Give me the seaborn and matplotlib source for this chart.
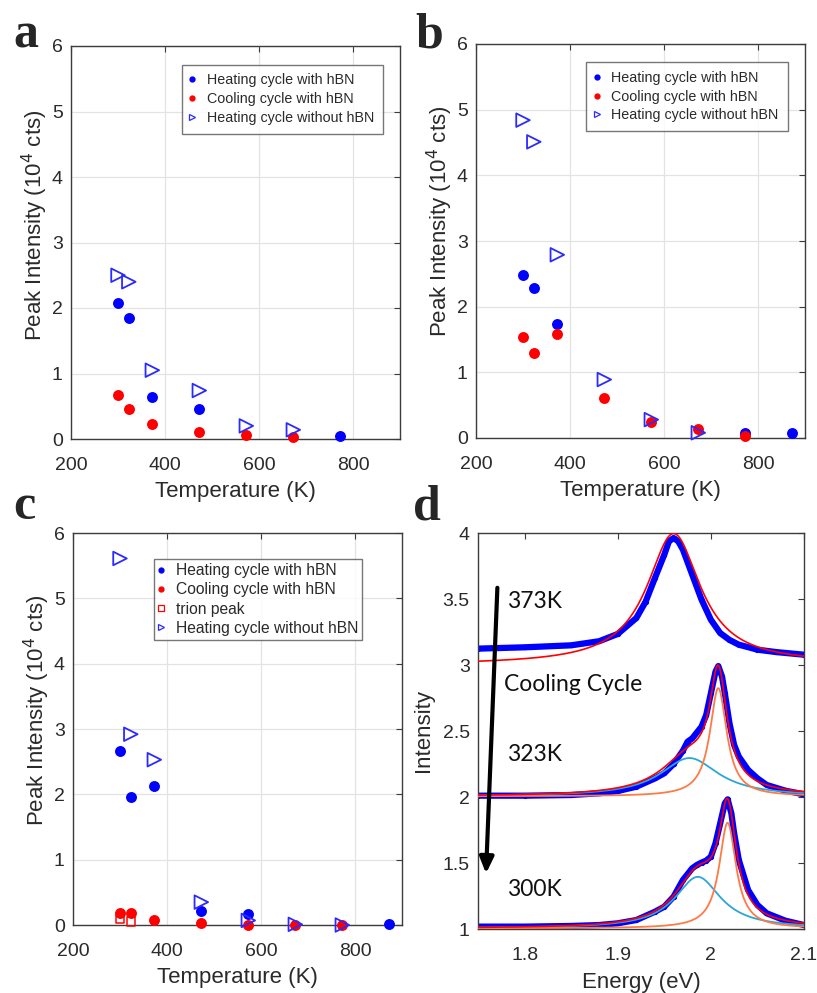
import numpy as np
import pandas as pd
import matplotlib
matplotlib.use("Agg")
import matplotlib.pyplot as plt
from matplotlib.lines import Line2D
import seaborn as sns

sns.set_theme(style="white")
plt.rcParams["font.family"] = ["Liberation Sans", "DejaVu Sans"]

# ---------------- data ----------------
# panel a
T_a_heat = [300, 323, 373, 473, 773]
I_a_heat = [2.08, 1.85, 0.64, 0.46, 0.04]
T_a_cool = [300, 323, 373, 473, 573, 673]
I_a_cool = [0.67, 0.46, 0.23, 0.11, 0.06, 0.035]
T_a_noh = [300, 323, 373, 473, 573, 673]
I_a_noh = [2.50, 2.40, 1.05, 0.74, 0.20, 0.14]
# panel b
T_b_heat = [300, 323, 373, 773, 873]
I_b_heat = [2.48, 2.29, 1.74, 0.07, 0.07]
T_b_cool = [300, 323, 373, 473, 573, 673, 773]
I_b_cool = [1.54, 1.30, 1.58, 0.61, 0.25, 0.13, 0.035]
T_b_noh = [300, 323, 373, 473, 573, 673]
I_b_noh = [4.84, 4.51, 2.79, 0.89, 0.28, 0.08]
# panel c
T_c_heat = [300, 323, 373, 473, 573, 873]
I_c_heat = [2.67, 1.96, 2.12, 0.22, 0.17, 0.01]
T_c_cool = [300, 323, 373, 473, 573, 673, 773]
I_c_cool = [0.19, 0.19, 0.08, 0.03, 0.0, 0.0, 0.0]
T_c_trion = [300, 323]
I_c_trion = [0.09, 0.05]
T_c_noh = [300, 323, 373, 473, 573, 673, 773]
I_c_noh = [5.61, 2.92, 2.53, 0.35, 0.07, 0.01, 0.0]

temp_ticks = [200, 400, 600, 800]
temp_ticklabels = ["200", "400", "600", "800"]
int_ticks = [0, 1, 2, 3, 4, 5, 6]
int_ticklabels = ["0", "1", "2", "3", "4", "5", "6"]

E373 = [1.75, 1.80, 1.85, 1.88, 1.90, 1.92, 1.93, 1.94, 1.95, 1.955, 1.96, 1.965,
        1.97, 1.98, 1.99, 2.00, 2.01, 2.02, 2.03, 2.05, 2.07, 2.10]
I373 = [3.124, 3.134, 3.149, 3.18, 3.235, 3.356, 3.48, 3.66, 3.836, 3.937, 3.962, 3.937,
        3.874, 3.684, 3.495, 3.343, 3.242, 3.19, 3.154, 3.116, 3.098, 3.078]
E323 = [1.75, 1.80, 1.85, 1.88, 1.90, 1.92, 1.94, 1.95, 1.96, 1.97, 1.975, 1.98, 1.99,
        1.995, 2.00, 2.005, 2.008, 2.012, 2.015, 2.02, 2.025, 2.03, 2.04, 2.05, 2.06,
        2.08, 2.10]
I323 = [2.010, 2.010, 2.015, 2.028, 2.045, 2.078, 2.141, 2.18, 2.25, 2.351, 2.419, 2.444,
        2.533, 2.621, 2.785, 2.95, 2.992, 2.912, 2.785, 2.558, 2.394, 2.306, 2.205,
        2.141, 2.091, 2.048, 2.02]
E300 = [1.75, 1.80, 1.85, 1.88, 1.90, 1.92, 1.94, 1.95, 1.96, 1.97, 1.98, 1.985, 1.99,
        1.995, 2.00, 2.005, 2.01, 2.015, 2.018, 2.022, 2.025, 2.03, 2.04, 2.05, 2.06,
        2.08, 2.10]
I300 = [1.018, 1.018, 1.023, 1.03, 1.043, 1.068, 1.131, 1.169, 1.245, 1.371, 1.46, 1.485,
        1.503, 1.518, 1.548, 1.649, 1.80, 1.952, 1.982, 1.876, 1.725, 1.523, 1.295,
        1.182, 1.119, 1.063, 1.03]

# Lorentzian fit parameters: (center eV, amplitude, HWHM eV)
fit373_peak = (1.960, 0.99, 0.035)
fit373_base = (3.002, 3.009)          # linear baseline at 1.75 and 2.10 eV
fit323_A = (2.008, 0.82, 0.011)        # neutral exciton (orange)
fit323_T = (1.977, 0.29, 0.038)        # trion (cyan)
fit323_base = 2.005
fit300_A = (2.018, 0.80, 0.011)
fit300_T = (1.986, 0.39, 0.030)
fit300_base = 1.005

energy_ticks = [1.8, 1.9, 2.0, 2.1]
energy_ticklabels = ["1.8", "1.9", "2", "2.1"]
spec_ticks = [1, 1.5, 2, 2.5, 3, 3.5, 4]
spec_ticklabels = ["1", "1.5", "2", "2.5", "3", "3.5", "4"]

# ---------------- styling ----------------
BLUE = "#0000ff"
RED = "#ff0000"
TRI = "#2b2bff"
ORANGE = "#ff7a45"
CYAN = "#2ca6d6"
FRAME = "#3c3c3c"
TXT = "#2a2a2a"

W, H = 817, 993
fig = plt.figure(figsize=(W / 100, H / 100), dpi=100)


def px_axes(l, t, r, b):
    return fig.add_axes([l / W, 1 - b / H, (r - l) / W, (b - t) / H])


def style_axes(ax, grid=True):
    for s in ax.spines.values():
        s.set_color(FRAME)
        s.set_linewidth(1.0)
    ax.tick_params(direction="in", length=4, width=0.8, color=FRAME,
                   top=True, right=True, labelsize=14, labelcolor=TXT)
    ax.tick_params(axis="y", pad=6)
    ax.tick_params(axis="x", pad=13)
    if grid:
        ax.grid(True, color="#e3e3e3", lw=0.9)
        ax.set_axisbelow(True)


def scatter_panel(ax, series, legend_items, leg_box, leg_fs, leg_spacing, leg_pad):
    for kind, T, I in series:
        df = pd.DataFrame({"T": T, "I": I})
        if kind == "heat":
            sns.scatterplot(data=df, x="T", y="I", ax=ax, color=BLUE, s=62,
                            linewidth=0, marker="o", clip_on=False, zorder=3)
        elif kind == "cool":
            sns.scatterplot(data=df, x="T", y="I", ax=ax, color=RED, s=62,
                            linewidth=0, marker="o", clip_on=False, zorder=4)
        elif kind == "trion":
            sns.scatterplot(data=df, x="T", y="I", ax=ax, color=RED, s=38,
                            linewidth=1.1, marker="s", clip_on=False, zorder=5)
            ax.collections[-1].set_facecolor("none")
            ax.collections[-1].set_edgecolor(RED)
        else:
            sns.scatterplot(data=df, x="T", y="I", ax=ax, color=TRI, s=95,
                            linewidth=1.3, marker=">", clip_on=False, zorder=6)
            ax.collections[-1].set_facecolor("none")
            ax.collections[-1].set_edgecolor(TRI)
    ax.set_xlim(200, 900)
    ax.set_ylim(0, 6)
    ax.set_xticks(temp_ticks)
    ax.set_xticklabels(temp_ticklabels)
    ax.set_yticks(int_ticks)
    ax.set_yticklabels(int_ticklabels)
    style_axes(ax)
    ax.set_xlabel("Temperature (K)", fontsize=16, color=TXT, va="center")
    ax.set_ylabel(r"Peak Intensity (10$^4$ cts)", fontsize=16, color=TXT, va="center")
    handles = []
    for kind, lab in legend_items:
        if kind == "heat":
            h = Line2D([], [], ls="", marker="o", ms=3.5, color=BLUE, mec=BLUE)
        elif kind == "cool":
            h = Line2D([], [], ls="", marker="o", ms=3.5, color=RED, mec=RED)
        elif kind == "trion":
            h = Line2D([], [], ls="", marker="s", ms=4, mfc="none", mec=RED, mew=0.9)
        else:
            h = Line2D([], [], ls="", marker=">", ms=4.5, mfc="none", mec=TRI, mew=0.9)
        handles.append(h)
    x0, y1, w = leg_box
    leg = ax.legend(handles, [l for _, l in legend_items], loc="upper left",
                    bbox_to_anchor=(x0, y1 - 1.0, w, 1.0), mode="expand",
                    borderaxespad=0, fontsize=leg_fs, frameon=True, fancybox=False,
                    handlelength=0.3, handletextpad=0.85, borderpad=leg_pad,
                    labelspacing=leg_spacing)
    leg.get_frame().set_edgecolor("#555555")
    leg.get_frame().set_linewidth(1.0)
    for t in leg.get_texts():
        t.set_color(TXT)
    return ax


# ---- panel a
axA = px_axes(71, 46, 400, 439)
scatter_panel(axA, [("heat", T_a_heat, I_a_heat), ("cool", T_a_cool, I_a_cool),
                    ("noh", T_a_noh, I_a_noh)],
              [("heat", "Heating cycle with hBN"), ("cool", "Cooling cycle with hBN"),
               ("noh", "Heating cycle without hBN")],
              (0.336, 0.952, 0.613), 10.3, 0.34, 0.6)
axA.yaxis.set_label_coords(-0.109, 0.545)
axA.xaxis.set_label_coords(0.5, -0.133)

# ---- panel b
axB = px_axes(476, 44, 805, 438)
scatter_panel(axB, [("heat", T_b_heat, I_b_heat), ("cool", T_b_cool, I_b_cool),
                    ("noh", T_b_noh, I_b_noh)],
              [("heat", "Heating cycle with hBN"), ("cool", "Cooling cycle with hBN"),
               ("noh", "Heating cycle without hBN")],
              (0.335, 0.954, 0.612), 10.3, 0.34, 0.6)
axB.yaxis.set_label_coords(-0.109, 0.549)
axB.xaxis.set_label_coords(0.5, -0.133)

# ---- panel c
axC = px_axes(73, 533, 402, 925)
scatter_panel(axC, [("heat", T_c_heat, I_c_heat), ("cool", T_c_cool, I_c_cool),
                    ("trion", T_c_trion, I_c_trion), ("noh", T_c_noh, I_c_noh)],
              [("heat", "Heating cycle with hBN"), ("cool", "Cooling cycle with hBN"),
               ("trion", "trion peak"), ("noh", "Heating cycle without hBN")],
              (0.247, 0.933, 0.632), 11.25, 0.27, 0.25)
axC.yaxis.set_label_coords(-0.11, 0.547)
axC.xaxis.set_label_coords(0.5, -0.135)

# ---- panel d
axD = px_axes(478, 533, 804, 929)
Eg = np.linspace(1.75, 2.10, 701)


def lor(E, p):
    c, a, g = p
    return a / (1 + ((E - c) / g) ** 2)


base373 = fit373_base[0] + (fit373_base[1] - fit373_base[0]) * (Eg - 1.75) / 0.35
fits = pd.DataFrame({
    "E": Eg,
    "fit373": base373 + lor(Eg, fit373_peak),
    "A323": fit323_base + lor(Eg, fit323_A),
    "T323": fit323_base + lor(Eg, fit323_T),
    "A300": fit300_base + lor(Eg, fit300_A),
    "T300": fit300_base + lor(Eg, fit300_T),
})
fits["sum323"] = fit323_base + lor(Eg, fit323_A) + lor(Eg, fit323_T)
fits["sum300"] = fit300_base + lor(Eg, fit300_A) + lor(Eg, fit300_T)

for E, I in [(E373, I373), (E323, I323), (E300, I300)]:
    d = pd.DataFrame({"E": E, "I": I})
    sns.lineplot(data=d, x="E", y="I", ax=axD, color=BLUE, lw=4.5, marker="o",
                 ms=3, mec=BLUE, sort=False, zorder=2)

for col, c, lw in [("T323", CYAN, 1.3), ("A323", ORANGE, 1.3), ("T300", CYAN, 1.3),
                   ("A300", ORANGE, 1.3), ("fit373", RED, 1.2), ("sum323", RED, 1.2),
                   ("sum300", RED, 1.2)]:
    sns.lineplot(data=fits, x="E", y=col, ax=axD, color=c, lw=lw, zorder=3)

axD.set_xlim(1.75, 2.10)
axD.set_ylim(1, 4)
axD.set_xticks(energy_ticks)
axD.set_xticklabels(energy_ticklabels)
axD.set_yticks(spec_ticks)
axD.set_yticklabels(spec_ticklabels)
style_axes(axD, grid=False)
axD.set_xlabel("Energy (eV)", fontsize=16, color=TXT, va="center")
axD.set_ylabel("Intensity", fontsize=16, color=TXT, va="center")
axD.xaxis.set_label_coords(0.5, -0.135)
axD.yaxis.set_label_coords(-0.168, 0.5)

axD.annotate("", xy=(1.7586, 1.42), xytext=(1.7708, 3.585),
             arrowprops=dict(arrowstyle="-|>,head_length=0.8,head_width=0.35",
                             lw=3.0, color="black", mutation_scale=12,
                             shrinkA=0, shrinkB=0), zorder=6)
for txt, x, y in [("373K", 1.781, 3.48), ("Cooling Cycle", 1.778, 2.85),
                  ("323K", 1.781, 2.32), ("300K", 1.781, 1.30)]:
    axD.text(x, y, txt, fontsize=16.5, family=["Lato", "DejaVu Sans"], color="#111111",
             ha="left", va="center", zorder=7)

# ---- panel letters
for lab, x, y in [("a", 13, 48), ("b", 415, 48), ("c", 13, 519), ("d", 413, 519)]:
    fig.text(x / W, 1 - y / H, lab, fontsize=36, fontweight="bold",
             family=["Liberation Serif", "DejaVu Serif"], ha="left", va="baseline")

fig.savefig("out.png", dpi=100)
